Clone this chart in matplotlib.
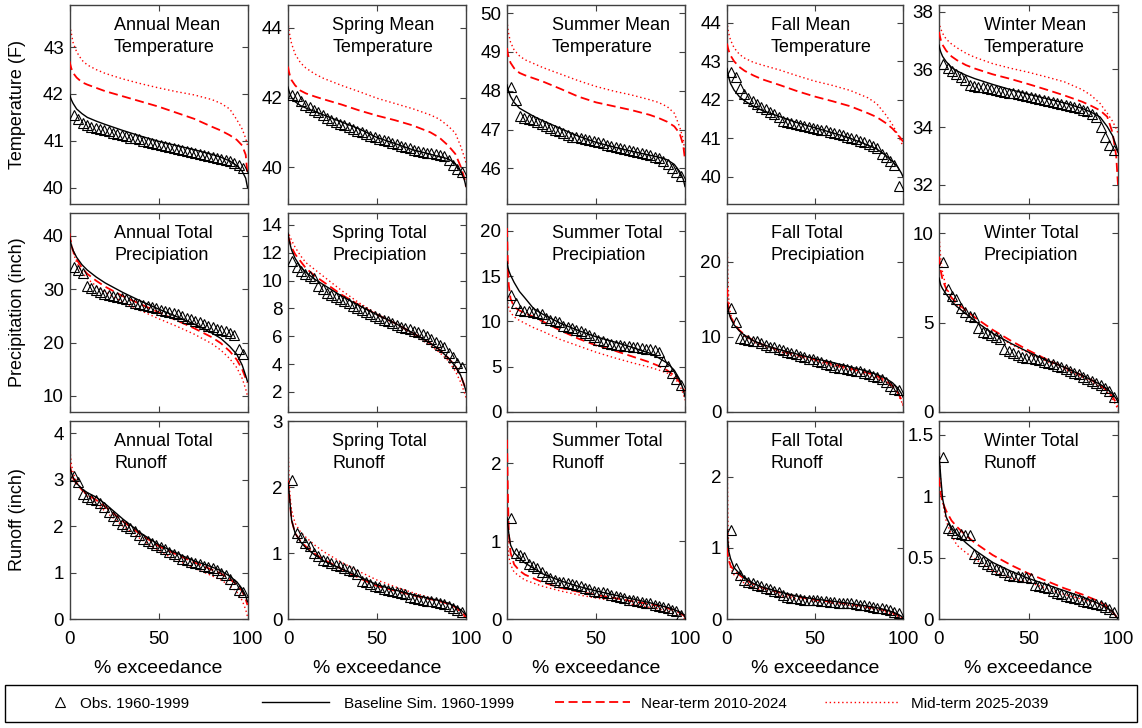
import matplotlib
matplotlib.use("Agg")
import matplotlib.pyplot as plt
from matplotlib.lines import Line2D
from matplotlib.patches import Rectangle
from matplotlib.ticker import FormatStrFormatter

plt.rcParams['font.family'] = ['Liberation Sans', 'DejaVu Sans']

# Exceedance probabilities (%) at which the simulated curves are tabulated
exc_pct = [0, 0.5, 1, 2, 4, 7, 10, 15, 20, 30, 40, 50, 60, 70, 80, 85, 90, 94, 97, 99, 100]

# ---------------- Mean temperature (F) ----------------
ann_temp_obs = [41.55, 41.47, 41.38, 41.33, 41.30, 41.28, 41.25, 41.22, 41.20, 41.17,
                41.15, 41.12, 41.10, 41.07, 41.05, 41.03, 41.00, 40.98, 40.95, 40.93,
                40.90, 40.88, 40.86, 40.85, 40.83, 40.80, 40.78, 40.76, 40.74, 40.72,
                40.70, 40.68, 40.66, 40.64, 40.62, 40.60, 40.57, 40.53, 40.48, 40.42]
ann_temp_base = [42.0, 41.93, 41.88, 41.8, 41.68, 41.58, 41.5, 41.42, 41.35, 41.22, 41.1,
                 40.99, 40.9, 40.81, 40.71, 40.65, 40.57, 40.47, 40.35, 40.2, 40.0]
ann_temp_near = [42.7, 42.62, 42.55, 42.45, 42.35, 42.25, 42.2, 42.13, 42.06, 41.95, 41.84,
                 41.73, 41.6, 41.47, 41.3, 41.22, 41.12, 41.02, 40.9, 40.7, 40.27]
ann_temp_mid = [43.55, 43.4, 43.3, 43.1, 42.9, 42.72, 42.62, 42.52, 42.44, 42.32, 42.22,
                42.13, 42.05, 41.98, 41.88, 41.8, 41.68, 41.45, 41.25, 41.05, 40.9]

spr_temp_obs = [42.08, 42.05, 41.90, 41.80, 41.72, 41.65, 41.58, 41.50, 41.42, 41.35,
                41.30, 41.25, 41.20, 41.15, 41.10, 41.05, 41.00, 40.95, 40.90, 40.86,
                40.82, 40.78, 40.74, 40.70, 40.66, 40.62, 40.58, 40.55, 40.50, 40.47,
                40.44, 40.42, 40.40, 40.38, 40.36, 40.33, 40.20, 40.05, 39.95, 39.85]
spr_temp_base = [42.3, 42.2, 42.12, 42.0, 41.88, 41.77, 41.7, 41.6, 41.5, 41.3, 41.1,
                 40.85, 40.68, 40.5, 40.37, 40.3, 40.24, 40.1, 39.87, 39.65, 39.44]
spr_temp_near = [42.89, 42.75, 42.65, 42.5, 42.35, 42.2, 42.12, 42.03, 41.95, 41.8, 41.63,
                 41.48, 41.35, 41.2, 41.0, 40.85, 40.62, 40.38, 40.02, 39.7, 39.44]
spr_temp_mid = [44.19, 43.95, 43.8, 43.55, 43.25, 43.0, 42.85, 42.68, 42.55, 42.35, 42.17,
                41.98, 41.83, 41.68, 41.5, 41.38, 41.18, 40.98, 40.6, 40.3, 40.12]

sum_temp_obs = [48.10, 47.75, 47.35, 47.30, 47.27, 47.24, 47.20, 47.15, 47.10, 47.05,
                47.00, 46.95, 46.90, 46.85, 46.82, 46.80, 46.78, 46.75, 46.72, 46.70,
                46.67, 46.64, 46.60, 46.57, 46.55, 46.52, 46.50, 46.48, 46.45, 46.42,
                46.40, 46.37, 46.34, 46.30, 46.26, 46.20, 46.12, 46.02, 45.90, 45.80]
sum_temp_base = [48.15, 48.05, 47.97, 47.85, 47.7, 47.55, 47.47, 47.34, 47.23, 47.03, 46.83,
                 46.67, 46.55, 46.44, 46.34, 46.29, 46.22, 46.1, 45.92, 45.72, 45.53]
sum_temp_near = [49.1, 48.95, 48.85, 48.72, 48.58, 48.46, 48.4, 48.32, 48.24, 48.05, 47.85,
                 47.7, 47.6, 47.5, 47.38, 47.3, 47.2, 47.08, 46.9, 46.6, 46.22]
sum_temp_mid = [49.81, 49.6, 49.45, 49.25, 49.05, 48.9, 48.8, 48.7, 48.6, 48.43, 48.26,
                48.11, 47.99, 47.89, 47.77, 47.7, 47.59, 47.42, 47.07, 46.75, 46.39]

fal_temp_obs = [42.73, 42.60, 42.30, 42.15, 42.05, 41.97, 41.90, 41.82, 41.75, 41.68,
                41.62, 41.55, 41.45, 41.42, 41.40, 41.38, 41.35, 41.32, 41.30, 41.27,
                41.25, 41.22, 41.20, 41.17, 41.14, 41.10, 41.07, 41.04, 41.00, 40.97,
                40.93, 40.90, 40.85, 40.80, 40.75, 40.60, 40.50, 40.40, 40.30, 39.75]
fal_temp_base = [42.81, 42.68, 42.58, 42.42, 42.25, 42.08, 41.97, 41.83, 41.72, 41.56, 41.4,
                 41.27, 41.14, 41.0, 40.82, 40.72, 40.56, 40.4, 40.25, 40.1, 40.0]
fal_temp_near = [43.46, 43.35, 43.27, 43.15, 43.0, 42.85, 42.75, 42.63, 42.53, 42.38, 42.22,
                 42.08, 41.96, 41.83, 41.65, 41.55, 41.4, 41.25, 41.1, 40.98, 40.91]
fal_temp_mid = [44.03, 43.85, 43.72, 43.55, 43.35, 43.18, 43.08, 42.97, 42.9, 42.77, 42.62,
                42.48, 42.37, 42.24, 42.05, 41.9, 41.62, 41.35, 41.1, 40.9, 40.78]

win_temp_obs = [36.20, 36.05, 35.95, 35.85, 35.75, 35.65, 35.45, 35.42, 35.40, 35.38,
                35.36, 35.33, 35.30, 35.25, 35.22, 35.20, 35.17, 35.14, 35.10, 35.07,
                35.03, 35.00, 34.97, 34.94, 34.90, 34.87, 34.84, 34.80, 34.77, 34.73,
                34.70, 34.65, 34.60, 34.55, 34.45, 34.35, 34.00, 33.65, 33.40, 33.20]
win_temp_base = [36.84, 36.7, 36.6, 36.45, 36.27, 36.07, 35.95, 35.8, 35.68, 35.48, 35.3,
                 35.14, 34.99, 34.84, 34.65, 34.52, 34.35, 34.02, 33.7, 33.35, 33.15]
win_temp_near = [37.3, 37.15, 37.02, 36.85, 36.65, 36.45, 36.32, 36.15, 36.03, 35.83, 35.67,
                 35.49, 35.3, 35.1, 34.88, 34.74, 34.58, 34.36, 33.8, 33.0, 32.0]
win_temp_mid = [37.65, 37.5, 37.4, 37.25, 37.05, 36.88, 36.75, 36.56, 36.42, 36.2, 36.04,
                35.9, 35.74, 35.57, 35.3, 35.1, 34.82, 34.48, 34.2, 33.95, 33.79]

# ---------------- Total precipitation (inch) ----------------
ann_prcp_obs = [34.2, 33.6, 33.0, 30.6, 30.2, 29.8, 29.5, 29.2, 29.0, 28.8,
                28.5, 28.3, 28.1, 27.8, 27.5, 27.2, 27.0, 26.8, 26.6, 26.4,
                26.2, 26.0, 25.8, 25.6, 25.3, 25.0, 24.7, 24.4, 24.1, 23.8,
                23.5, 23.2, 22.9, 22.6, 22.4, 22.1, 21.8, 21.5, 18.8, 17.8]
ann_prcp_base = [40.0, 39.0, 38.3, 37.3, 36.0, 34.6, 33.6, 32.3, 31.2, 29.4, 27.8,
                 26.3, 24.9, 23.5, 21.8, 20.8, 19.3, 17.8, 15.8, 13.8, 12.7]
ann_prcp_near = [40.5, 39.3, 38.4, 37.2, 35.6, 34.0, 32.9, 31.6, 30.5, 28.7, 27.2,
                 25.7, 24.2, 22.7, 21.0, 19.9, 18.4, 16.8, 15.0, 13.3, 12.5]
ann_prcp_mid = [41.5, 39.8, 38.6, 37.0, 35.0, 33.2, 32.0, 30.6, 29.5, 27.6, 26.0,
                24.5, 23.1, 21.6, 19.8, 18.6, 17.0, 15.3, 13.3, 11.3, 10.0]

spr_prcp_obs = [11.4, 11.0, 10.7, 10.5, 10.35, 10.2, 9.6, 9.4, 9.1, 8.95,
                8.85, 8.7, 8.55, 8.4, 8.2, 8.05, 7.9, 7.78, 7.6, 7.45,
                7.32, 7.2, 7.08, 6.95, 6.8, 6.7, 6.6, 6.5, 6.4, 6.3,
                6.15, 6.0, 5.8, 5.6, 5.4, 5.25, 4.8, 4.5, 4.1, 3.8]
spr_prcp_base = [13.4, 13.0, 12.7, 12.2, 11.6, 11.0, 10.6, 10.1, 9.7, 8.9, 8.2,
                 7.55, 6.95, 6.25, 5.5, 5.05, 4.45, 3.85, 3.2, 2.5, 2.04]
spr_prcp_near = [13.2, 13.0, 12.8, 12.4, 11.9, 11.4, 10.9, 10.35, 9.9, 9.0, 8.25,
                 7.55, 6.95, 6.25, 5.5, 5.05, 4.45, 3.85, 3.2, 2.5, 2.1]
spr_prcp_mid = [13.6, 13.4, 13.2, 12.9, 12.4, 11.8, 11.3, 10.8, 10.3, 9.3, 8.4,
                7.6, 6.9, 6.15, 5.35, 4.85, 4.25, 3.5, 2.7, 2.0, 1.6]

sum_prcp_obs = [12.9, 12.0, 11.3, 11.2, 11.1, 11.0, 10.9, 10.8, 10.4, 10.2,
                10.0, 9.9, 9.5, 9.4, 9.3, 9.1, 8.9, 8.7, 8.5, 8.3,
                8.0, 7.8, 7.6, 7.5, 7.4, 7.35, 7.3, 7.25, 7.2, 7.15,
                7.1, 7.0, 6.9, 6.8, 6.6, 5.6, 5.1, 4.3, 3.6, 3.0]
sum_prcp_base = [16.6, 16.0, 15.6, 15.1, 14.3, 13.3, 12.6, 11.4, 10.8, 9.8, 9.0,
                 8.3, 7.75, 7.15, 6.5, 6.0, 5.4, 4.6, 3.6, 2.5, 1.7]
sum_prcp_near = [20.3, 16.0, 14.0, 12.5, 11.6, 11.2, 10.9, 10.5, 10.0, 9.0, 8.1,
                 7.35, 6.8, 6.15, 5.5, 5.1, 4.6, 4.0, 3.3, 2.6, 2.2]
sum_prcp_mid = [13.0, 12.0, 11.5, 11.0, 10.5, 10.1, 9.8, 9.3, 8.9, 8.0, 7.3,
                6.6, 6.0, 5.45, 4.95, 4.65, 4.3, 3.8, 3.0, 2.0, 1.3]

fal_prcp_obs = [13.8, 12.0, 9.8, 9.7, 9.6, 9.5, 9.4, 9.2, 8.9, 8.7,
                8.6, 8.4, 8.2, 8.0, 7.8, 7.7, 7.5, 7.3, 7.1, 7.0,
                6.8, 6.6, 6.4, 6.2, 6.0, 5.9, 5.8, 5.7, 5.6, 5.5,
                5.4, 5.2, 5.0, 4.8, 4.6, 4.4, 4.0, 3.5, 3.0, 2.9]
fal_prcp_base = [14.5, 13.8, 13.3, 12.5, 11.6, 10.8, 10.2, 9.5, 9.0, 8.3, 7.7,
                 7.1, 6.6, 6.0, 5.4, 5.0, 4.5, 3.9, 3.2, 2.5, 2.0]
fal_prcp_near = [16.5, 14.5, 13.5, 12.7, 11.8, 10.9, 10.3, 9.5, 9.0, 8.2, 7.6,
                 7.0, 6.4, 5.8, 5.2, 4.8, 4.2, 3.5, 2.6, 1.7, 1.0]
fal_prcp_mid = [24.0, 18.0, 15.0, 13.0, 11.8, 10.8, 10.1, 9.3, 8.8, 8.0, 7.4,
                6.8, 6.2, 5.6, 4.9, 4.5, 4.0, 3.3, 2.4, 1.5, 0.8]

win_prcp_obs = [8.4, 6.9, 6.5, 6.3, 5.8, 5.6, 5.4, 5.3, 4.7, 4.5,
                4.4, 4.3, 4.2, 4.1, 3.5, 3.4, 3.3, 3.2, 3.1, 3.05,
                3.0, 2.95, 2.9, 2.8, 2.75, 2.7, 2.6, 2.5, 2.4, 2.3,
                2.2, 2.1, 1.95, 1.85, 1.75, 1.65, 1.5, 1.35, 1.2, 0.85]
win_prcp_base = [7.5, 7.3, 7.1, 6.9, 6.6, 6.2, 5.9, 5.5, 5.1, 4.4, 3.85,
                 3.35, 2.9, 2.5, 2.05, 1.8, 1.55, 1.3, 1.0, 0.75, 0.55]
win_prcp_near = [8.7, 8.3, 7.9, 7.4, 6.9, 6.4, 6.1, 5.7, 5.3, 4.6, 4.0,
                 3.45, 2.95, 2.5, 2.05, 1.8, 1.5, 1.2, 0.85, 0.5, 0.3]
win_prcp_mid = [10.0, 9.2, 8.6, 7.8, 7.0, 6.4, 6.0, 5.5, 5.1, 4.4, 3.8,
                3.3, 2.85, 2.4, 1.95, 1.7, 1.4, 1.1, 0.7, 0.35, 0.1]

# ---------------- Total runoff (inch) ----------------
ann_roff_obs = [3.08, 2.95, 2.70, 2.62, 2.58, 2.55, 2.50, 2.42, 2.30, 2.22,
                2.12, 2.05, 2.00, 1.95, 1.90, 1.80, 1.72, 1.68, 1.64, 1.60,
                1.55, 1.50, 1.45, 1.40, 1.35, 1.30, 1.26, 1.22, 1.20, 1.18,
                1.15, 1.12, 1.10, 1.05, 1.00, 0.95, 0.85, 0.75, 0.62, 0.58]
ann_roff_base = [3.3, 3.22, 3.15, 3.05, 2.92, 2.8, 2.72, 2.62, 2.48, 2.15, 1.85,
                 1.6, 1.42, 1.25, 1.12, 1.04, 0.92, 0.8, 0.65, 0.5, 0.37]
ann_roff_near = [3.35, 3.25, 3.15, 3.03, 2.9, 2.78, 2.68, 2.56, 2.42, 2.1, 1.82,
                 1.57, 1.39, 1.22, 1.06, 0.98, 0.86, 0.74, 0.6, 0.42, 0.3]
ann_roff_mid = [3.9, 3.55, 3.35, 3.15, 2.95, 2.78, 2.65, 2.48, 2.32, 2.0, 1.72,
                1.46, 1.27, 1.1, 0.93, 0.84, 0.72, 0.58, 0.4, 0.2, 0.05]

spr_roff_obs = [2.10, 1.30, 1.25, 1.15, 1.10, 1.00, 0.95, 0.90, 0.88, 0.85,
                0.82, 0.80, 0.78, 0.75, 0.72, 0.68, 0.58, 0.56, 0.53, 0.50,
                0.48, 0.46, 0.44, 0.42, 0.41, 0.40, 0.38, 0.34, 0.32, 0.30,
                0.29, 0.28, 0.27, 0.26, 0.24, 0.22, 0.20, 0.16, 0.13, 0.10]
spr_roff_base = [2.05, 1.95, 1.8, 1.5, 1.3, 1.17, 1.08, 0.97, 0.88, 0.76, 0.64,
                 0.52, 0.44, 0.37, 0.31, 0.28, 0.24, 0.19, 0.14, 0.09, 0.06]
spr_roff_near = [2.1, 1.95, 1.78, 1.5, 1.3, 1.18, 1.1, 0.99, 0.9, 0.76, 0.62,
                 0.5, 0.43, 0.36, 0.3, 0.27, 0.23, 0.18, 0.12, 0.06, 0.02]
spr_roff_mid = [2.7, 2.2, 1.9, 1.65, 1.45, 1.32, 1.24, 1.12, 1.02, 0.86, 0.72,
                0.59, 0.49, 0.4, 0.32, 0.28, 0.23, 0.17, 0.1, 0.04, 0.0]

sum_roff_obs = [1.30, 0.85, 0.82, 0.80, 0.70, 0.68, 0.65, 0.60, 0.55, 0.52,
                0.50, 0.48, 0.47, 0.46, 0.45, 0.44, 0.42, 0.40, 0.38, 0.36,
                0.35, 0.34, 0.33, 0.31, 0.30, 0.28, 0.27, 0.25, 0.24, 0.23,
                0.22, 0.21, 0.20, 0.18, 0.17, 0.15, 0.14, 0.12, 0.10, 0.05]
sum_roff_base = [1.3, 1.2, 1.1, 0.95, 0.85, 0.78, 0.72, 0.65, 0.58, 0.49, 0.42,
                 0.36, 0.31, 0.26, 0.21, 0.18, 0.15, 0.12, 0.09, 0.06, 0.05]
sum_roff_near = [2.3, 1.6, 1.1, 0.85, 0.7, 0.62, 0.57, 0.52, 0.47, 0.4, 0.35,
                 0.31, 0.27, 0.23, 0.19, 0.17, 0.14, 0.11, 0.08, 0.05, 0.03]
sum_roff_mid = [1.2, 0.95, 0.8, 0.7, 0.6, 0.55, 0.5, 0.46, 0.42, 0.36, 0.31,
                0.27, 0.23, 0.19, 0.15, 0.13, 0.1, 0.07, 0.04, 0.02, 0.0]

fal_roff_obs = [1.25, 0.72, 0.62, 0.55, 0.52, 0.50, 0.48, 0.46, 0.44, 0.42,
                0.40, 0.38, 0.33, 0.31, 0.30, 0.29, 0.28, 0.27, 0.27, 0.26,
                0.26, 0.25, 0.25, 0.24, 0.24, 0.23, 0.23, 0.22, 0.22, 0.21,
                0.20, 0.19, 0.18, 0.17, 0.16, 0.15, 0.14, 0.12, 0.10, 0.08]
fal_roff_base = [1.25, 1.1, 0.95, 0.85, 0.72, 0.64, 0.58, 0.5, 0.45, 0.38, 0.32,
                 0.28, 0.25, 0.22, 0.18, 0.16, 0.13, 0.1, 0.07, 0.04, 0.02]
fal_roff_near = [1.0, 0.9, 0.82, 0.75, 0.68, 0.62, 0.56, 0.49, 0.44, 0.37, 0.31,
                 0.27, 0.24, 0.21, 0.17, 0.15, 0.12, 0.09, 0.06, 0.03, 0.01]
fal_roff_mid = [2.55, 1.4, 0.95, 0.72, 0.62, 0.56, 0.5, 0.44, 0.4, 0.33, 0.28,
                0.25, 0.22, 0.19, 0.15, 0.13, 0.1, 0.07, 0.04, 0.02, 0.0]

win_roff_obs = [1.32, 0.74, 0.72, 0.70, 0.69, 0.68, 0.68, 0.53, 0.50, 0.47,
                0.45, 0.43, 0.41, 0.40, 0.38, 0.36, 0.35, 0.35, 0.34, 0.34,
                0.33, 0.28, 0.27, 0.26, 0.25, 0.23, 0.21, 0.20, 0.19, 0.18,
                0.17, 0.16, 0.15, 0.14, 0.13, 0.12, 0.11, 0.10, 0.08, 0.06]
win_roff_base = [1.32, 1.25, 1.15, 0.98, 0.83, 0.74, 0.69, 0.62, 0.56, 0.46, 0.39,
                 0.33, 0.28, 0.23, 0.18, 0.15, 0.12, 0.09, 0.06, 0.02, 0.0]
win_roff_near = [1.15, 1.08, 1.02, 0.95, 0.88, 0.8, 0.75, 0.68, 0.62, 0.52, 0.44,
                 0.37, 0.31, 0.25, 0.2, 0.17, 0.14, 0.1, 0.06, 0.02, 0.0]
win_roff_mid = [1.45, 1.25, 1.1, 0.95, 0.8, 0.68, 0.6, 0.54, 0.49, 0.39, 0.33,
                0.3, 0.25, 0.2, 0.16, 0.14, 0.11, 0.08, 0.05, 0.02, 0.0]

# Panel titles
titles = [
    ["Annual Mean\nTemperature", "Spring Mean\nTemperature", "Summer Mean\nTemperature",
     "Fall Mean\nTemperature", "Winter Mean\nTemperature"],
    ["Annual Total\nPrecipiation", "Spring Total\nPrecipiation", "Summer Total\nPrecipiation",
     "Fall Total\nPrecipiation", "Winter Total\nPrecipiation"],
    ["Annual Total\nRunoff", "Spring Total\nRunoff", "Summer Total\nRunoff",
     "Fall Total\nRunoff", "Winter Total\nRunoff"],
]
row_ylabels = ["Temperature (F)", "Precipitation (inch)", "Runoff (inch)"]
legend_labels = ["Obs. 1960-1999", "Baseline Sim. 1960-1999",
                 "Near-term 2010-2024", "Mid-term 2025-2039"]

series = [
    [(ann_temp_obs, ann_temp_base, ann_temp_near, ann_temp_mid),
     (spr_temp_obs, spr_temp_base, spr_temp_near, spr_temp_mid),
     (sum_temp_obs, sum_temp_base, sum_temp_near, sum_temp_mid),
     (fal_temp_obs, fal_temp_base, fal_temp_near, fal_temp_mid),
     (win_temp_obs, win_temp_base, win_temp_near, win_temp_mid)],
    [(ann_prcp_obs, ann_prcp_base, ann_prcp_near, ann_prcp_mid),
     (spr_prcp_obs, spr_prcp_base, spr_prcp_near, spr_prcp_mid),
     (sum_prcp_obs, sum_prcp_base, sum_prcp_near, sum_prcp_mid),
     (fal_prcp_obs, fal_prcp_base, fal_prcp_near, fal_prcp_mid),
     (win_prcp_obs, win_prcp_base, win_prcp_near, win_prcp_mid)],
    [(ann_roff_obs, ann_roff_base, ann_roff_near, ann_roff_mid),
     (spr_roff_obs, spr_roff_base, spr_roff_near, spr_roff_mid),
     (sum_roff_obs, sum_roff_base, sum_roff_near, sum_roff_mid),
     (fal_roff_obs, fal_roff_base, fal_roff_near, fal_roff_mid),
     (win_roff_obs, win_roff_base, win_roff_near, win_roff_mid)],
]

# Axis ranges and ticks for each panel
ylims = [
    [(39.65, 43.9), (38.94, 44.66), (45.08, 50.21), (39.29, 44.46), (31.34, 38.23)],
    [(7.0, 44.3), (0.56, 14.86), (0, 21.96), (0, 26.5), (0, 11.14)],
    [(0, 4.26), (0, 3.0), (0, 2.54), (0, 2.78), (0, 1.61)],
]
yticks = [
    [[40, 41, 42, 43], [40, 42, 44], [46, 47, 48, 49, 50], [40, 41, 42, 43, 44], [32, 34, 36, 38]],
    [[10, 20, 30, 40], [2, 4, 6, 8, 10, 12, 14], [0, 5, 10, 15, 20], [0, 10, 20], [0, 5, 10]],
    [[0, 1, 2, 3, 4], [0, 1, 2, 3], [0, 1, 2], [0, 1, 2], [0, 0.5, 1, 1.5]],
]

W, H = 1142, 728
fig = plt.figure(figsize=(W / 100, H / 100), dpi=100)

col_left = [69.5, 288, 507, 727, 939]
col_w = [178, 178, 178, 176, 179]
row_top = [5, 213, 421]
row_h = [199, 199, 198]

spine_c = '#404040'


def weibull_positions(n):
    return [100.0 * (i + 1) / (n + 1) for i in range(n)]


for r in range(3):
    for c in range(5):
        l, t, w, h = col_left[c], row_top[r], col_w[c], row_h[r]
        ax = fig.add_axes([l / W, 1 - (t + h) / H, w / W, h / H])
        obs, base, near, mid = series[r][c]
        ax.plot(exc_pct, mid, color='red', lw=1.0, ls=(0, (1, 2)), zorder=2)
        ax.plot(exc_pct, near, color='red', lw=1.3, ls=(0, (5, 2.5)), zorder=3)
        ax.plot(exc_pct, base, color='black', lw=1.0, zorder=4)
        obs_sorted = sorted(obs, reverse=True)
        ax.plot(weibull_positions(len(obs_sorted)), obs_sorted, ls='none', marker='^',
                ms=6.5, mfc='none', mec='black', mew=0.8, zorder=5)
        ax.set_xlim(0, 100)
        ax.set_ylim(*ylims[r][c])
        ax.set_xticks([0, 50, 100])
        ax.set_yticks(yticks[r][c])
        ax.yaxis.set_major_formatter(FormatStrFormatter('%g'))
        ax.tick_params(direction='in', top=True, right=True, length=4, width=0.8,
                       color=spine_c, labelsize=13.5)
        ax.tick_params(axis='y', pad=4)
        ax.tick_params(axis='x', pad=9)
        for sp in ax.spines.values():
            sp.set_color(spine_c)
            sp.set_linewidth(1.0)
        if r < 2:
            ax.set_xticklabels([])
        else:
            ax.set_xlabel('% exceedance', fontsize=14, labelpad=8)
        ax.text(0.25, 0.94, titles[r][c], transform=ax.transAxes, ha='left', va='top',
                fontsize=13, linespacing=1.4)
    fig.text(17.5 / W, 1 - (row_top[r] + row_h[r] / 2) / H, row_ylabels[r],
             rotation=90, ha='center', va='center', fontsize=13)

# Legend frame and entries
fig.patches.append(Rectangle((5 / W, 1 - 722 / H), 1132 / W, 37 / H, transform=fig.transFigure,
                             fill=False, edgecolor='black', lw=1.0))
handles = [
    Line2D([], [], ls='none', marker='^', ms=6.5, mfc='none', mec='black', mew=0.8),
    Line2D([], [], color='black', lw=1.0),
    Line2D([], [], color='red', lw=1.3, ls=(0, (5, 2.5))),
    Line2D([], [], color='red', lw=1.0, ls=(0, (1, 2))),
]
leg_x = [44, 262, 555, 825]
leg_len = [2.1, 4.4, 4.9, 4.9]
leg_pad = [0.25, 1.0, 0.7, 0.7]
for hnd, lab, x0, hl, hp in zip(handles, legend_labels, leg_x, leg_len, leg_pad):
    fig.legend(handles=[hnd], labels=[lab], loc='center left',
               bbox_to_anchor=(x0 / W, 1 - 703.5 / H), frameon=False,
               fontsize=11, handlelength=hl, handletextpad=hp,
               borderpad=0, borderaxespad=0)

fig.savefig('out.png', dpi=100)
